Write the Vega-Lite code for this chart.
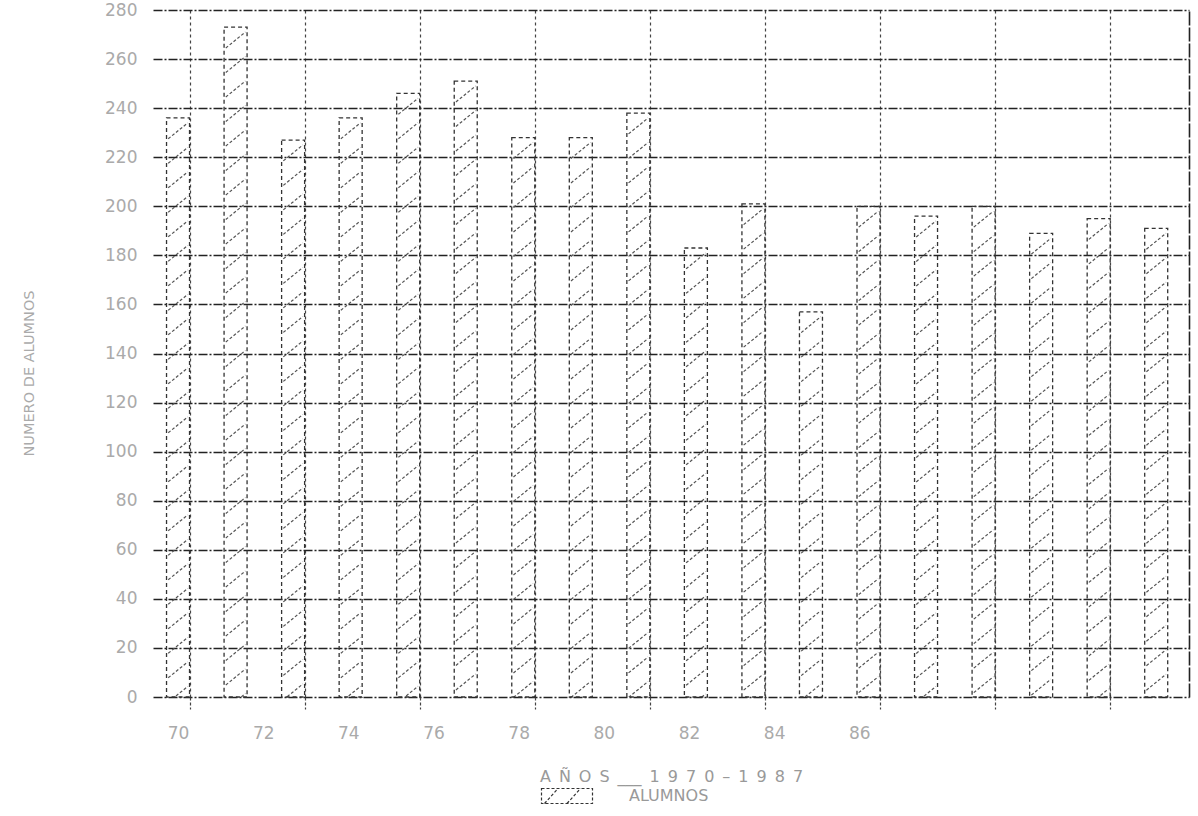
{
  "$schema": "https://vega.github.io/schema/vega-lite/v6.json",
  "width": 1036,
  "height": 687,
  "autosize": "none",
  "padding": {"left": 153, "top": 10, "right": 9, "bottom": 119},
  "background": "white",
  "config": {"view": {"stroke": null}, "font": "DejaVu Sans"},
  "data": {
    "values": [
      {"year": 70, "alumnos": 236},
      {"year": 71, "alumnos": 273},
      {"year": 72, "alumnos": 227},
      {"year": 73, "alumnos": 236},
      {"year": 74, "alumnos": 246},
      {"year": 75, "alumnos": 251},
      {"year": 76, "alumnos": 228},
      {"year": 77, "alumnos": 228},
      {"year": 78, "alumnos": 238},
      {"year": 79, "alumnos": 183},
      {"year": 80, "alumnos": 201},
      {"year": 81, "alumnos": 157},
      {"year": 82, "alumnos": 200},
      {"year": 83, "alumnos": 196},
      {"year": 84, "alumnos": 200},
      {"year": 85, "alumnos": 189},
      {"year": 86, "alumnos": 195},
      {"year": 87, "alumnos": 191}
    ]
  },
  "layer": [
    {
      "mark": {"type": "point", "opacity": 0},
      "encoding": {
        "x": {
          "field": "year", "type": "quantitative",
          "scale": {"domain": [69.565, 87.57], "nice": false, "zero": false, "padding": 0},
          "axis": {
            "orient": "bottom",
            "values": [70.2, 72.2, 74.2, 76.2, 78.2, 80.2, 82.2, 84.2, 86.2],
            "labels": false, "grid": true, "gridColor": "#444", "gridDash": [3, 3], "gridWidth": 1.2,
            "ticks": true, "tickSize": 12, "tickColor": "#444", "tickDash": [3, 2], "tickWidth": 1.2,
            "domain": false, "title": null
          }
        },
        "y": {
          "field": "alumnos", "type": "quantitative",
          "scale": {"domain": [0, 280], "nice": false, "padding": 0},
          "axis": {
            "orient": "right", "domain": true, "domainColor": "#222", "domainWidth": 1.6,
            "domainDash": [14, 2], "labels": false, "ticks": false, "grid": false, "title": null
          }
        }
      }
    },
    {
      "mark": {
        "type": "point", "filled": false, "clip": true, "opacity": 1,
        "stroke": "#555", "strokeWidth": 1.2, "strokeDash": [3, 2],
        "size": 2401,
        "shape": "M-0.4,0.85L0.4,0.2M-0.4,1.85L0.4,1.2M-0.4,2.85L0.4,2.2M-0.4,3.85L0.4,3.2M-0.4,4.85L0.4,4.2M-0.4,5.85L0.4,5.2M-0.4,6.85L0.4,6.2M-0.4,7.85L0.4,7.2M-0.4,8.85L0.4,8.2M-0.4,9.85L0.4,9.2M-0.4,10.85L0.4,10.2M-0.4,11.85L0.4,11.2M-0.4,12.85L0.4,12.2M-0.4,13.85L0.4,13.2M-0.4,14.85L0.4,14.2M-0.4,15.85L0.4,15.2M-0.4,16.85L0.4,16.2M-0.4,17.85L0.4,17.2M-0.4,18.85L0.4,18.2M-0.4,19.85L0.4,19.2M-0.4,20.85L0.4,20.2M-0.4,21.85L0.4,21.2M-0.4,22.85L0.4,22.2M-0.4,23.85L0.4,23.2M-0.4,24.85L0.4,24.2M-0.4,25.85L0.4,25.2M-0.4,26.85L0.4,26.2M-0.4,27.85L0.4,27.2"
      },
      "encoding": {
        "x": {"field": "year", "type": "quantitative", "axis": null},
        "y": {"field": "alumnos", "type": "quantitative", "axis": null}
      }
    },
    {
      "mark": {"type": "bar", "orient": "vertical", "filled": false, "strokeWidth": 1.3, "strokeDash": [4, 3], "width": 23},
      "encoding": {
        "x": {
          "field": "year", "type": "quantitative",
          "axis": {
            "orient": "bottom",
            "values": [70, 71.48, 72.96, 74.44, 75.92, 77.4, 78.88, 80.36, 81.84],
            "labelExpr": "'' + (70 + 2 * round((datum.value - 70) / 1.48))",
            "grid": false, "ticks": false, "domain": false,
            "labelPadding": 28, "labelFontSize": 17, "labelColor": "#aaa",
            "title": "A\u2002Ñ\u2002O\u2002S\u2002___\u20021\u20029\u20027\u20020\u2002–\u20021\u20029\u20028\u20027",
            "titleFontSize": 16, "titleFontWeight": "normal", "titleColor": "#999", "titlePadding": 27
          }
        },
        "y": {
          "field": "alumnos", "type": "quantitative",
          "axis": {
            "orient": "left",
            "values": [0, 20, 40, 60, 80, 100, 120, 140, 160, 180, 200, 220, 240, 260, 280],
            "grid": true, "gridColor": "#222", "gridDash": [9, 2, 2, 2], "gridWidth": 1.5,
            "ticks": false, "domain": false,
            "labelPadding": 16, "labelFontSize": 17, "labelColor": "#aaa",
            "title": "NUMERO DE ALUMNOS", "titlePadding": 68, "titleFontSize": 14.5,
            "titleFontWeight": "normal", "titleColor": "#aaa", "titleY": 363
          }
        },
        "color": {
          "datum": "ALUMNOS", "type": "nominal",
          "scale": {"range": ["#333"]},
          "legend": {
            "title": null, "orient": "none", "legendX": 398, "legendY": 770, "padding": 0,
            "symbolType": "M-1.7,-0.5H1.7V0.5H-1.7Z M-1.5,0.5L-0.6,-0.5 M0,0.5L0.9,-0.5",
            "symbolSize": 900, "symbolStrokeWidth": 1.2, "symbolDash": [3, 2],
            "symbolFillColor": "white", "symbolStrokeColor": "#555",
            "labelFontSize": 16, "labelColor": "#999", "labelOffset": 46
          }
        }
      }
    }
  ],
  "resolve": {"axis": {"x": "independent", "y": "independent"}}
}
